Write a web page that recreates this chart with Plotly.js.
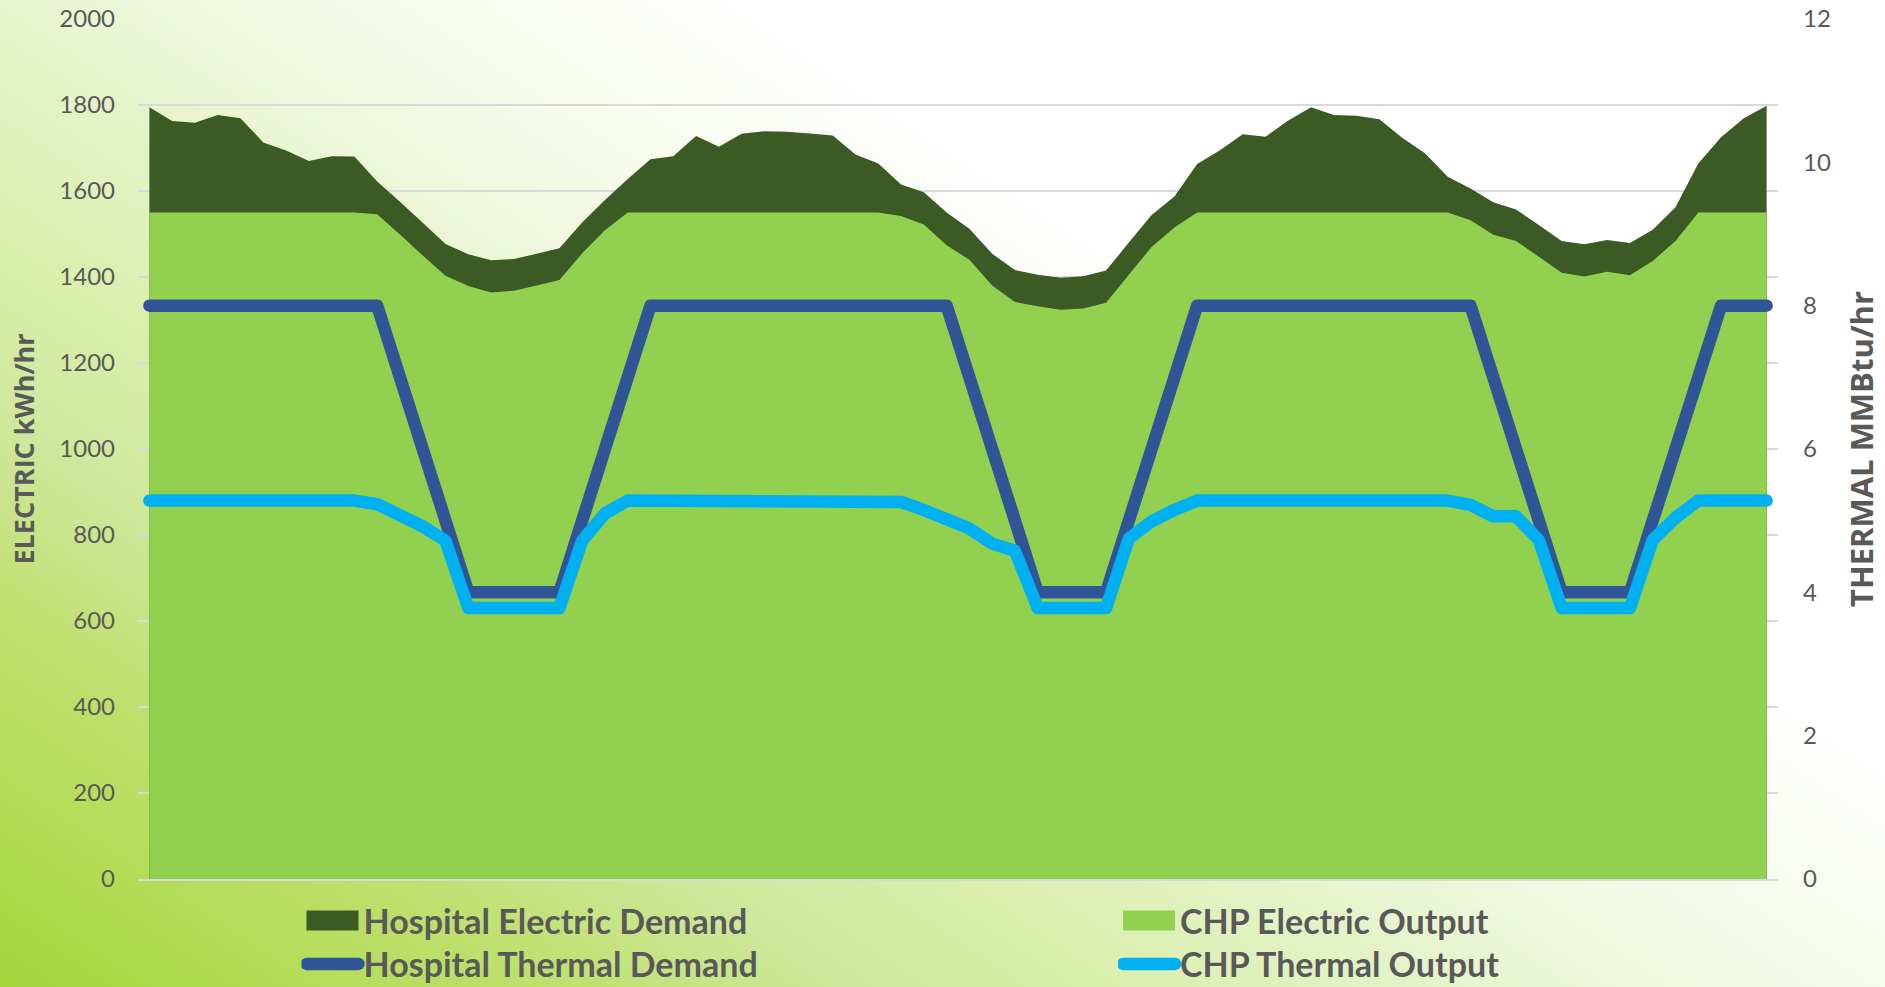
<!DOCTYPE html>
<html>
<head>
<meta charset="utf-8">
<script src="https://cdn.plot.ly/plotly-3.0.1.min.js"></script>
<style>
html,body{margin:0;padding:0;}
body{width:1885px;height:987px;overflow:hidden;
background:linear-gradient(33.7deg,#a4d53a 0%,#b5dd5a 10%,#c0e070 17%,#cde89a 25%,#daeeac 33%,#e4f3c6 42%,#f0f8e0 50%,#f8fcf0 58%,#ffffff 66%,#ffffff 100%);}
#chart{width:1885px;height:987px;}
.scatterlayer .js-line{stroke-linecap:round;stroke-linejoin:round;}
.legendlines path{stroke-linecap:round;stroke-width:12.5px !important;}
.legendfill path{transform:scaleY(3.35);}
</style>
</head>
<body>
<div id="chart"></div>
<script>
// hour index (72 hourly points, no axis labels shown)
const hours = [0,1,2,3,4,5,6,7,8,9,10,11,12,13,14,15,16,17,18,19,20,21,22,23,
  24,25,26,27,28,29,30,31,32,33,34,35,36,37,38,39,40,41,42,43,44,45,46,47,
  48,49,50,51,52,53,54,55,56,57,58,59,60,61,62,63,64,65,66,67,68,69,70,71];

// kWh/hr
const hospitalElectricDemand = [1795,1763,1759,1777,1769,1713,1694,1670,1681,1680,1622,1575,
  1526,1477,1453,1439,1442,1454,1467,1527,1579,1628,1674,1681,
  1728,1703,1733,1739,1738,1734,1729,1685,1664,1615,1597,1550,
  1512,1454,1416,1405,1398,1402,1415,1480,1544,1587,1663,1695,
  1732,1726,1764,1795,1777,1775,1767,1724,1688,1633,1606,1574,
  1557,1521,1484,1476,1486,1479,1510,1562,1664,1725,1769,1798];

const chpElectricOutput = [1550,1550,1550,1550,1550,1550,1550,1550,1550,1550,1546,1499,
  1450,1403,1379,1364,1368,1380,1393,1455,1509,1550,1550,1550,
  1550,1550,1550,1550,1550,1550,1550,1550,1550,1542,1522,1474,
  1440,1380,1342,1332,1324,1327,1340,1405,1470,1515,1550,1550,
  1550,1550,1550,1550,1550,1550,1550,1550,1550,1550,1532,1498,
  1484,1447,1410,1401,1412,1404,1437,1484,1550,1550,1550,1550];

// MMBtu/hr
const hospitalThermalDemand = [8,8,8,8,8,8,8,8,8,8,8,7,
  6,5,4,4,4,4,4,5,6,7,8,8,
  8,8,8,8,8,8,8,8,8,8,8,8,
  7,6,5,4,4,4,4,5,6,7,8,8,
  8,8,8,8,8,8,8,8,8,8,8,7,
  6,5,4,4,4,4,5,6,7,8,8,8];

const chpThermalOutput = [5.28,5.28,5.28,5.28,5.28,5.28,5.28,5.28,5.28,5.28,5.23,5.08,
  4.92,4.72,3.78,3.78,3.78,3.78,3.78,4.72,5.10,5.28,5.28,5.28,
  5.28,5.28,5.28,5.28,5.28,5.28,5.28,5.28,5.28,5.26,5.15,5.02,
  4.89,4.68,4.58,3.78,3.78,3.78,3.78,4.75,4.99,5.15,5.28,5.28,
  5.28,5.28,5.28,5.28,5.28,5.28,5.28,5.28,5.28,5.28,5.22,5.06,
  5.06,4.73,3.78,3.78,3.78,3.78,4.73,5.04,5.28,5.28,5.28,5.28];

const seriesNames = ['Hospital Electric Demand','CHP Electric Output','Hospital Thermal Demand','CHP Thermal Output'];

const textGray = '#595959';
const legendFont = {family:'Lato, sans-serif', size:34, color:textGray, weight:'bold'};

const traces = [
  {name:seriesNames[0], x:hours, y:hospitalElectricDemand, type:'scatter', mode:'none',
   fill:'tozeroy', fillcolor:'#3b5a24', line:{width:0}, legend:'legend', hoverinfo:'skip'},
  {name:seriesNames[1], x:hours, y:chpElectricOutput, type:'scatter', mode:'none',
   fill:'tozeroy', fillcolor:'#92d050', line:{width:0}, legend:'legend2', hoverinfo:'skip'},
  {name:seriesNames[2], x:hours, y:hospitalThermalDemand, yaxis:'y2', type:'scatter', mode:'lines',
   line:{color:'#2f5597', width:12.5}, legend:'legend3', hoverinfo:'skip'},
  {name:seriesNames[3], x:hours, y:chpThermalOutput, yaxis:'y2', type:'scatter', mode:'lines',
   line:{color:'#00b0f0', width:12.5}, legend:'legend4', hoverinfo:'skip'}
];

function legendAt(x, y){
  return {x:x, y:y, xanchor:'left', yanchor:'top', orientation:'h', itemwidth:52,
          font:legendFont, bgcolor:'rgba(0,0,0,0)', borderwidth:0};
}

const layout = {
  width:1885, height:987,
  paper_bgcolor:'rgba(0,0,0,0)', plot_bgcolor:'rgba(0,0,0,0)',
  margin:{l:138, r:107, t:19, b:108, autoexpand:false},
  font:{family:'Lato, sans-serif', color:textGray},
  showlegend:true,
  xaxis:{range:[-0.5,71.5], showticklabels:false, showgrid:false, zeroline:false,
         showline:true, linecolor:'#d9d9d9', linewidth:1.5, ticks:'', fixedrange:true},
  yaxis:{range:[0,2000], tick0:0, dtick:200, showgrid:true, gridcolor:'#d9d9d9', gridwidth:1.5,
         zeroline:false, ticks:'', ticklabelstandoff:22,
         tickfont:{family:'Lato, sans-serif', size:24, color:textGray},
         title:{text:'ELECTRIC kWh/hr', standoff:16,
                font:{family:'Open Sans, sans-serif', size:27, color:textGray, weight:'bold'}}},
  yaxis2:{range:[0,12], tick0:0, dtick:2, overlaying:'y', side:'right', showgrid:false,
          zeroline:false, ticks:'', ticklabelstandoff:24,
          tickfont:{family:'Lato, sans-serif', size:24, color:textGray},
          title:{text:'THERMAL MMBtu/hr', standoff:21,
                 font:{family:'Open Sans, sans-serif', size:31, color:textGray, weight:'bold'}}},
  legend:legendAt(0.0997, -0.0150),
  legend2:legendAt(0.5976, -0.0150),
  legend3:legendAt(0.0997, -0.0655),
  legend4:legendAt(0.5976, -0.0655)
};

Plotly.newPlot('chart', traces, layout, {displayModeBar:false, responsive:false});
</script>
</body>
</html>
